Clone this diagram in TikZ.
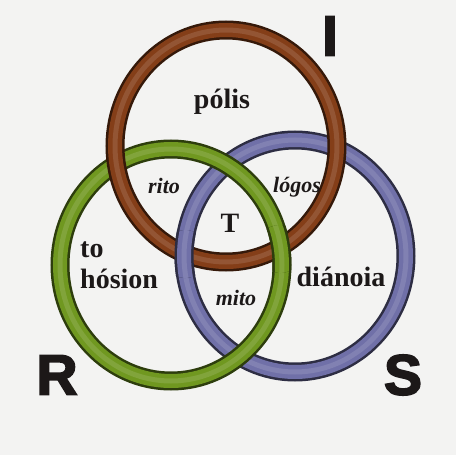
\documentclass[tikz,border=0pt]{standalone}
\usepackage{fontspec}
\setmainfont{Liberation Serif}
\newfontfamily\letterfont[BoldFeatures={FakeBold=3}]{Liberation Sans}
\usepackage{tikz}
\usepackage{xcolor}
\definecolor{ringbrown}{RGB}{132,62,24}
\definecolor{ringgreen}{RGB}{112,152,32}
\definecolor{ringblue}{RGB}{112,112,168}
\definecolor{paper}{RGB}{243,243,242}
\definecolor{ink}{RGB}{28,24,24}

\begin{document}
\begin{tikzpicture}[x=1pt,y=-1pt,
  ring/.style={draw=#1, line width=14pt,
    preaction={draw=#1!40!black, line width=19pt},
    postaction={draw=#1!88!white, line width=5pt}},
  word/.style={font=\fontsize{28}{31}\selectfont\bfseries, text=ink, inner sep=0pt},
  myth/.style={font=\fontsize{22}{26}\selectfont\bfseries\itshape, text=ink, inner sep=0pt},
  letter/.style={font=\letterfont\bfseries\fontsize{57}{60}\selectfont, text=ink, inner sep=0pt}]
  \fill[paper] (0,0) rectangle (456,455);
  \foreach \col/\cx/\cy in {ringblue/295/256, ringgreen/171/265, ringbrown/226/146}
    \draw[ring=\col] (\cx,\cy) ellipse [x radius=111pt, y radius=116pt];
  \foreach \col/\cx/\cy/\px/\py in {ringblue/295/256/185/254, ringgreen/171/265/280/249}{
    \begin{scope}
      \clip (\px,\py) circle (24pt);
      \draw[ring=\col] (\cx,\cy) ellipse [x radius=111pt, y radius=116pt];
    \end{scope}
  }
  \node[word, anchor=base] (polis) at (222,108) {pólis};
  \node[word, anchor=base west] (to) at (80,257) {to};
  \node[word, anchor=base west] (hosion) at (80,288) {hósion};
  \node[word, anchor=base] (dianoia) at (341,286) {diánoia};
  \node[word, anchor=base] (T) at (230,232) {T};
  \node[myth, anchor=base] (rito) at (164,193) {rito};
  \node[myth, anchor=base] (logos) at (297,192) {lógos};
  \node[myth, anchor=base] (mito) at (236,305) {mito};
  \node[letter] (I) at (330,36) {I};
  \node[letter] (R) at (57,375) {R};
  \node[letter] (S) at (403,375) {S};
\end{tikzpicture}
\end{document}
